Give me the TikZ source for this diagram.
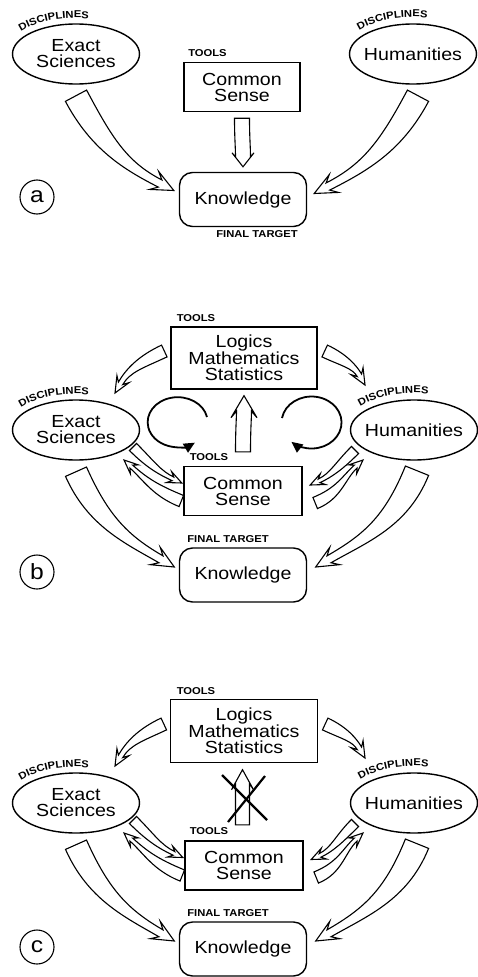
\documentclass[tikz,border=0pt]{standalone}
\usepackage{fontspec}
\setmainfont{Liberation Sans}[FakeStretch=1.12]
\usetikzlibrary{shapes.geometric,arrows.meta,calc,decorations.text}

\newcommand{\tagfont}{\bfseries\fontsize{10}{10}\selectfont}

\newcommand{\hollowarrow}[8]{%
  \pgfmathsetmacro{\hanecklen}{0.7*#8}%
  \coordinate (ha-a) at (#1);
  \coordinate (ha-b) at (#4);
  \path let \p1=($(ha-b)-(ha-a)$), \n1={0.4*veclen(\x1,\y1)} in
    coordinate (ha-c1) at ($(ha-a)+(#2:\n1)$)
    coordinate (ha-c2) at ($(ha-b)+(#3:\n1)$);
  \coordinate (ha-n) at ($(ha-b)!\hanecklen pt!(ha-c2)$);
  \coordinate (ha-m) at ($(ha-b)!#8pt!(ha-c2)$);
  \coordinate (ha-s1) at ($(ha-a)!#5pt!90:(ha-c1)$);
  \coordinate (ha-s2) at ($(ha-a)!#5pt!-90:(ha-c1)$);
  \coordinate (ha-n1) at ($(ha-n)!#6pt!90:(ha-b)$);
  \coordinate (ha-n2) at ($(ha-n)!#6pt!-90:(ha-b)$);
  \coordinate (ha-h1) at ($(ha-m)!#7pt!90:(ha-b)$);
  \coordinate (ha-h2) at ($(ha-m)!#7pt!-90:(ha-b)$);
  \draw[hollow] (ha-s1) .. controls ($(ha-c1)+(ha-s1)-(ha-a)$) and ($(ha-c2)+(ha-n1)-(ha-n)$) .. (ha-n1)
    -- (ha-h1) -- (ha-b) -- (ha-h2) -- (ha-n2)
    .. controls ($(ha-c2)+(ha-n2)-(ha-n)$) and ($(ha-c1)+(ha-s2)-(ha-a)$) .. (ha-s2) -- cycle;
}

\tikzset{
  maintext/.style={font=\fontsize{17.5}{16}\selectfont, align=center},
  discipline/.style={maintext, ellipse, draw, line width=1.4pt, inner xsep=-6pt, inner ysep=0pt,
    minimum width=127pt, minimum height=60pt},
  toolbox/.style={maintext, rectangle, draw, line width=1.4pt, minimum width=118pt, minimum height=49pt},
  targetbox/.style={maintext, rectangle, rounded corners=13pt, draw, line width=1.4pt,
    minimum width=127pt, minimum height=54pt},
  tag/.style={font=\tagfont, inner sep=0pt},
  discarc/.style={decorate, decoration={text along path, text={|\tagfont|DISCIPLINES}, text align=center}},
  panel/.style={circle, draw, line width=1.1pt, minimum size=34pt, inner sep=0pt,
    font=\fontsize{22}{22}\selectfont},
  hollow/.style={draw, fill=white, line width=1.1pt, line join=miter},
  circarrow/.style={line width=1.8pt, -{Triangle[length=11pt,width=10pt]}},
  crossline/.style={line width=2.2pt}
}

\begin{document}
\begin{tikzpicture}[x=1pt,y=1pt]
  \useasboundingbox (0,0) rectangle (477,-977);

  \node[discipline] (es_a) at (76,-54) {Exact\\Sciences};
  \node[discipline] (hu_a) at (413,-54) {Humanities};
  \node[toolbox, minimum width=116pt] (cs_a) at (242,-87) {Common\\Sense};
  \node[targetbox] (kn_a) at (243,-199.5) {Knowledge};

  \path[discarc] ($(es_a.center)+(172:70 and 36)$) arc[start angle=172, end angle=60, x radius=70, y radius=36];
  \path[discarc] ($(hu_a.center)+(170:70 and 37)$) arc[start angle=170, end angle=58, x radius=70, y radius=37];
  \node[tag] (tl_a) at (207.5,-53.5) {TOOLS};
  \node[tag] (ft_a) at (257,-234.5) {FINAL TARGET};
  \node[panel] (p_a) at (37,-197) {a};

  \hollowarrow{$(es_a.south)+(0,-11)$}{-62}{153}{$(kn_a.west)+(-5,9)$}{12}{4}{10}{22}
  \hollowarrow{$(hu_a.south)+(5,-11)$}{-118}{27}{$(kn_a.east)+(7,6)$}{12}{4}{10}{22}
  \hollowarrow{$(cs_a.south)+(0,-6)$}{-90}{90}{$(kn_a.north)+(0,5)$}{7.5}{7.5}{11}{14}

  \node[toolbox, minimum width=146pt, minimum height=62pt] (lms_b) at (244,-358) {Logics\\Mathematics\\Statistics};
  \node[discipline] (es_b) at (76,-430) {Exact\\Sciences};
  \node[discipline] (hu_b) at (414,-430) {Humanities};
  \node[toolbox] (cs_b) at (243,-491) {Common\\Sense};
  \node[targetbox] (kn_b) at (243,-575) {Knowledge};

  \node[tag] (tl_b) at (196,-318.5) {TOOLS};
  \path[discarc] ($(es_b.center)+(172:70 and 36)$) arc[start angle=172, end angle=60, x radius=70, y radius=36];
  \path[discarc] ($(hu_b.center)+(170:70 and 37)$) arc[start angle=170, end angle=58, x radius=70, y radius=37];
  \node[tag] (tc_b) at (209,-457.5) {TOOLS};
  \node[tag] (ft_b) at (228,-539.5) {FINAL TARGET};
  \node[panel] (p_b) at (37,-572) {b};

  \hollowarrow{$(lms_b.west)+(-6,7)$}{205}{60}{$(es_b.center)+(39,37)$}{6.5}{2.5}{7}{16}
  \hollowarrow{$(lms_b.east)+(7,7)$}{-25}{120}{$(hu_b.center)+(-49,45)$}{6.5}{2.5}{7}{16}
  \hollowarrow{$(es_b.center)+(57,-17)$}{-45}{155}{$(cs_b.west)+(-1.5,8)$}{5}{2}{6}{14}
  \hollowarrow{$(cs_b.west)+(-2,-10)$}{158}{-42}{$(es_b.center)+(48,-30)$}{6}{2}{6}{14}
  \hollowarrow{$(hu_b.center)+(-59,-20)$}{-135}{25}{$(cs_b.east)+(7.5,6)$}{5}{2}{6}{14}
  \hollowarrow{$(cs_b.east)+(12.5,-12)$}{22}{-138}{$(hu_b.center)+(-51,-30)$}{6}{2}{6}{14}
  \hollowarrow{$(es_b.south)+(0,-11)$}{-66}{150}{$(kn_b.west)+(-4.5,8)$}{11.5}{4}{10}{22}
  \hollowarrow{$(hu_b.south)+(3,-10)$}{-112}{30}{$(kn_b.east)+(8.5,8)$}{12.5}{4}{10}{22}
  \hollowarrow{$(cs_b.north)+(0,14)$}{90}{-90}{$(lms_b.south)+(0,-6)$}{7.5}{7.5}{13}{22}

  \draw[circarrow] (207,-417) arc[start angle=12, end angle=305, x radius=30, y radius=25];
  \draw[circarrow] (282,-418) arc[start angle=170, end angle=-132, x radius=30, y radius=26];

  \node[toolbox, minimum width=147pt, minimum height=63pt] (lms_c) at (244,-731) {Logics\\Mathematics\\Statistics};
  \node[discipline] (es_c) at (76,-803) {Exact\\Sciences};
  \node[discipline] (hu_c) at (414,-803) {Humanities};
  \node[toolbox] (cs_c) at (244,-865.5) {Common\\Sense};
  \node[targetbox] (kn_c) at (243,-949) {Knowledge};

  \node[tag] (tl_c) at (196,-691.5) {TOOLS};
  \path[discarc] ($(es_c.center)+(172:70 and 36)$) arc[start angle=172, end angle=60, x radius=70, y radius=36];
  \path[discarc] ($(hu_c.center)+(170:70 and 37)$) arc[start angle=170, end angle=58, x radius=70, y radius=37];
  \node[tag] (tc_c) at (209,-831.5) {TOOLS};
  \node[tag] (ft_c) at (228,-913) {FINAL TARGET};
  \node[panel] (p_c) at (37,-947) {c};

  \hollowarrow{$(lms_c.west)+(-6,7)$}{205}{60}{$(es_c.center)+(39,37)$}{6.5}{2.5}{7}{16}
  \hollowarrow{$(lms_c.east)+(7,7)$}{-25}{120}{$(hu_c.center)+(-49,45)$}{6.5}{2.5}{7}{16}
  \hollowarrow{$(es_c.center)+(57,-17)$}{-45}{155}{$(cs_c.west)+(-1.5,8)$}{5}{2}{6}{14}
  \hollowarrow{$(cs_c.west)+(-2,-10)$}{158}{-42}{$(es_c.center)+(48,-30)$}{6}{2}{6}{14}
  \hollowarrow{$(hu_c.center)+(-59,-20)$}{-135}{25}{$(cs_c.east)+(7.5,6)$}{5}{2}{6}{14}
  \hollowarrow{$(cs_c.east)+(12.5,-12)$}{22}{-138}{$(hu_c.center)+(-51,-30)$}{6}{2}{6}{14}
  \hollowarrow{$(es_c.south)+(0,-11)$}{-66}{150}{$(kn_c.west)+(-4.5,8)$}{11.5}{4}{10}{22}
  \hollowarrow{$(hu_c.south)+(3,-10)$}{-112}{30}{$(kn_c.east)+(8.5,8)$}{12.5}{4}{10}{22}
  \hollowarrow{$(cs_c.north)+(-1.5,15.5)$}{90}{-90}{$(lms_c.south)+(-1.5,-6.5)$}{7}{7}{11}{20}

  \draw[crossline] (222,-775) -- (267,-820);
  \draw[crossline] (265,-776) -- (228,-822);
\end{tikzpicture}
\end{document}
